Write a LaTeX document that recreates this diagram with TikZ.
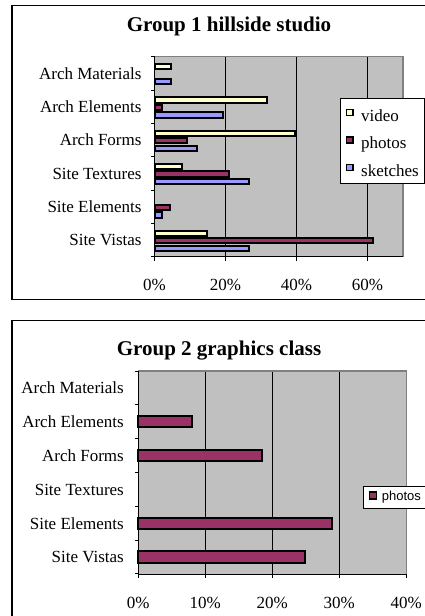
\documentclass[tikz,border=0pt]{standalone}
\usepackage{fontspec}
\setmainfont{Liberation Serif}
\newfontfamily\arialfont{Liberation Sans}
\definecolor{videocol}{HTML}{FFFFCC}
\definecolor{photocol}{HTML}{993366}
\definecolor{sketchcol}{HTML}{9999FF}
\definecolor{plotfill}{HTML}{C0C0C0}
\definecolor{plotframe}{HTML}{808080}
\tikzset{
  charttitle/.style={font=\fontsize{21}{21}\selectfont\bfseries, anchor=base, inner sep=0pt},
  catlabel/.style={font=\fontsize{17}{17}\selectfont, anchor=base east, inner sep=0pt},
  ticklabel/.style={font=\fontsize{17}{17}\selectfont, anchor=base, inner sep=0pt},
  legendtext/.style={font=\fontsize{17}{17}\selectfont, anchor=base west, inner sep=0pt},
  hbar/.style={draw=black, line width=2pt},
  swatch/.style={draw=black, line width=1.6pt, minimum size=6.2pt, inner sep=0pt},
}
\begin{document}
\begin{tikzpicture}[x=1pt, y=-1pt, line join=miter]
    \useasboundingbox (0,0) rectangle (425,616);
    \clip (0,0) rectangle (425,616);
    % ---- Group 1 ----
    \def\xo{154.5}\def\xr{403}\def\yt{56.7}\def\yb{256.7}\def\dy{33.33}\def\px{3.55}
    \draw[line width=1.2pt] (12,5.5) rectangle (440,299.3);
    \node[charttitle] (title1) at (229,31) {Group 1 hillside studio};
    \fill[plotfill] (\xo,\yt) rectangle (\xr,\yb);
    \foreach \g in {20,40,60} \draw[line width=0.8pt] ({\xo+\g*\px},\yt)--({\xo+\g*\px},\yb);
    \draw[plotframe, line width=1.5pt] (\xo,\yt)--(\xr,\yt)--(\xr,\yb);
    \draw[line width=1pt] (\xo,\yt)--(\xo,\yb)--(\xr,\yb);
    \foreach \k in {0,...,6} \draw[line width=1pt] (\xo-3.5,\yt+\k*\dy)--(\xo,\yt+\k*\dy);
    \foreach \g in {0,20,40,60} {
        \draw[line width=1pt] ({\xo+\g*\px},\yb)--({\xo+\g*\px},\yb+4);
        \node[ticklabel] (xa-\g) at ({\xo+\g*\px},290) {\g\%};
    }
    \foreach \lab/\v/\p/\s [count=\k from 0] in {Arch Materials/4.7/0/4.7, Arch Elements/31.8/2.0/19.3,
        Arch Forms/39.6/9.2/12.0, Site Textures/7.7/21.1/26.6, Site Elements/0/4.5/2.2, Site Vistas/14.8/61.6/26.6} {
        \node[catlabel] (ca-\k) at (141.7,{\yt+(\k+0.5)*\dy+5.8}) {\lab};
        \ifdim\v pt>0pt \filldraw[hbar, fill=videocol] (\xo,{\yt+\k*\dy+7.3}) rectangle ({\xo+\v*\px},{\yt+\k*\dy+12.6}); \fi
        \ifdim\p pt>0pt \filldraw[hbar, fill=photocol] (\xo,{\yt+\k*\dy+14.8}) rectangle ({\xo+\p*\px},{\yt+\k*\dy+20.1}); \fi
        \ifdim\s pt>0pt \filldraw[hbar, fill=sketchcol] (\xo,{\yt+\k*\dy+22.2}) rectangle ({\xo+\s*\px},{\yt+\k*\dy+27.5}); \fi
    }
    \draw[line width=0.8pt, fill=white] (340,98) rectangle (424,183.3);
    \foreach \n/\c/\y in {video/videocol/121, photos/photocol/148.5, sketches/sketchcol/176} {
        \node[swatch, fill=\c] (swa-\n) at (349.7,\y-8.6) {};
        \node[legendtext] (lga-\n) at (361,\y) {\n};
    }
    % ---- Group 2 ----
    \def\xo{138.3}\def\xr{406.7}\def\yt{371}\def\yb{574}\def\dy{33.83}\def\px{6.7}
    \draw[line width=1.2pt] (12,320.7) rectangle (440,640);
    \node[charttitle] (title2) at (219,355) {Group 2 graphics class};
    \fill[plotfill] (\xo,\yt) rectangle (\xr,\yb);
    \foreach \g in {10,20,30} \draw[line width=0.8pt] ({\xo+\g*\px},\yt)--({\xo+\g*\px},\yb);
    \draw[plotframe, line width=1.5pt] (\xo,\yt)--(\xr,\yt)--(\xr,\yb);
    \draw[line width=1pt] (\xo,\yt)--(\xo,\yb)--(\xr,\yb);
    \foreach \k in {0,...,6} \draw[line width=1pt] (\xo-3.5,\yt+\k*\dy)--(\xo,\yt+\k*\dy);
    \foreach \g in {0,10,20,30,40} {
        \draw[line width=1pt] ({\xo+\g*\px},\yb)--({\xo+\g*\px},\yb+4);
        \node[ticklabel] (xb-\g) at ({\xo+\g*\px},608.3) {\g\%};
    }
    \foreach \lab/\p [count=\k from 0] in {Arch Materials/0, Arch Elements/8.0, Arch Forms/18.4,
        Site Textures/0, Site Elements/28.9, Site Vistas/24.9} {
        \node[catlabel] (cb-\k) at (124,{\yt+(\k+0.5)*\dy+5.8}) {\lab};
        \ifdim\p pt>0pt \filldraw[hbar, fill=photocol] (\xo,{\yt+(\k+0.5)*\dy-5.7}) rectangle ({\xo+\p*\px},{\yt+(\k+0.5)*\dy+5.7}); \fi
    }
    \draw[line width=0.8pt, fill=white] (363.3,486) rectangle (440,508.3);
    \node[swatch, minimum size=7pt, fill=photocol] (swb-photos) at (372.8,495.5) {};
    \node[anchor=base west, inner sep=0pt, font=\arialfont\fontsize{13}{13}\selectfont] (lgb-photos) at (381.7,500) {photos};
\end{tikzpicture}
\end{document}
